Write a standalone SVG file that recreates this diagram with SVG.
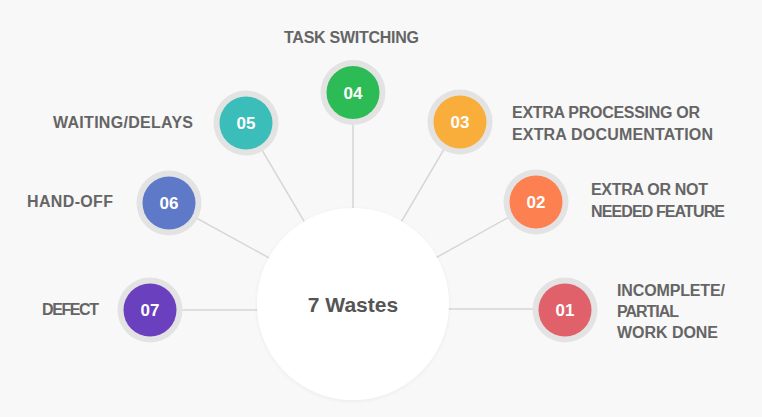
<svg xmlns="http://www.w3.org/2000/svg" width="762" height="417" viewBox="0 0 762 417">
<defs>
<style>
.ring{fill:#e3e3e3}
.num{font-family:"Liberation Sans",Arial,sans-serif;font-weight:bold;font-size:17px;fill:#ffffff;text-anchor:middle}
.lbl{font-family:"Liberation Sans",Arial,sans-serif;font-weight:bold;font-size:16px;fill:#656565;lengthAdjust:spacing}
.conn{stroke:#d6d6d6;stroke-width:1.5;fill:none}
.title{font-family:"Liberation Sans",Arial,sans-serif;font-weight:bold;font-size:21px;fill:#555555;text-anchor:middle}
</style>
<filter id="sh" x="-20%" y="-20%" width="140%" height="140%">
<feGaussianBlur in="SourceAlpha" stdDeviation="2"/>
<feOffset dx="0" dy="1"/>
<feComponentTransfer><feFuncA type="linear" slope="0.06"/></feComponentTransfer>
<feMerge><feMergeNode/><feMergeNode in="SourceGraphic"/></feMerge>
</filter>
</defs>
<rect width="762" height="417" fill="#f8f8f8"/>
<g id="connectors">
<line class="conn" x1="353" y1="304" x2="353" y2="92"/>
<line class="conn" x1="353" y1="304" x2="460" y2="122"/>
<line class="conn" x1="353" y1="304" x2="246" y2="123"/>
<line class="conn" x1="353" y1="304" x2="169" y2="203"/>
<line class="conn" x1="353" y1="304" x2="536" y2="202"/>
<line class="conn" x1="353" y1="310" x2="150" y2="310"/>
<line class="conn" x1="353" y1="309" x2="565" y2="309"/>
</g>
<g id="center">
<circle cx="353" cy="304" r="96" fill="#ffffff" filter="url(#sh)"/>
<text class="title" x="353" y="312">7 Wastes</text>
</g>
<g id="n04">
<circle class="ring" cx="353" cy="92.5" r="32.5"/>
<circle cx="353" cy="92.5" r="26.5" fill="#2dbb55"/>
<text class="num" x="353" y="99">04</text>
<text class="lbl" x="284" y="43" textLength="135">TASK SWITCHING</text>
</g>
<g id="n05">
<circle class="ring" cx="246" cy="123" r="32.5"/>
<circle cx="246" cy="123" r="26.5" fill="#3bbdb9"/>
<text class="num" x="246" y="129">05</text>
<text class="lbl" x="53" y="128" textLength="140">WAITING/DELAYS</text>
</g>
<g id="n03">
<circle class="ring" cx="460" cy="122" r="32.5"/>
<circle cx="460" cy="122" r="26.5" fill="#f9ad3b"/>
<text class="num" x="460" y="128">03</text>
<text class="lbl" x="512" y="118" textLength="188">EXTRA PROCESSING OR</text>
<text class="lbl" x="512" y="140" textLength="201">EXTRA DOCUMENTATION</text>
</g>
<g id="n06">
<circle class="ring" cx="169" cy="203" r="32.5"/>
<circle cx="169" cy="203" r="26.5" fill="#5f79c9"/>
<text class="num" x="169" y="209">06</text>
<text class="lbl" x="27" y="207" textLength="86">HAND-OFF</text>
</g>
<g id="n02">
<circle class="ring" cx="536" cy="202" r="32.5"/>
<circle cx="536" cy="202" r="26.5" fill="#fd8050"/>
<text class="num" x="536" y="208">02</text>
<text class="lbl" x="591" y="195" textLength="117">EXTRA OR NOT</text>
<text class="lbl" x="591" y="217" textLength="134">NEEDED FEATURE</text>
</g>
<g id="n07">
<circle class="ring" cx="150" cy="310" r="32.5"/>
<circle cx="150" cy="310" r="26.5" fill="#6a40bf"/>
<text class="num" x="150" y="316">07</text>
<text class="lbl" x="42" y="315" textLength="57">DEFECT</text>
</g>
<g id="n01">
<circle class="ring" cx="565" cy="310" r="32.5"/>
<circle cx="565" cy="310" r="26.5" fill="#e1616a"/>
<text class="num" x="565" y="316">01</text>
<text class="lbl" x="617" y="296" textLength="108">INCOMPLETE/</text>
<text class="lbl" x="617" y="317" textLength="62">PARTIAL</text>
<text class="lbl" x="617" y="338" textLength="101">WORK DONE</text>
</g>
</svg>
